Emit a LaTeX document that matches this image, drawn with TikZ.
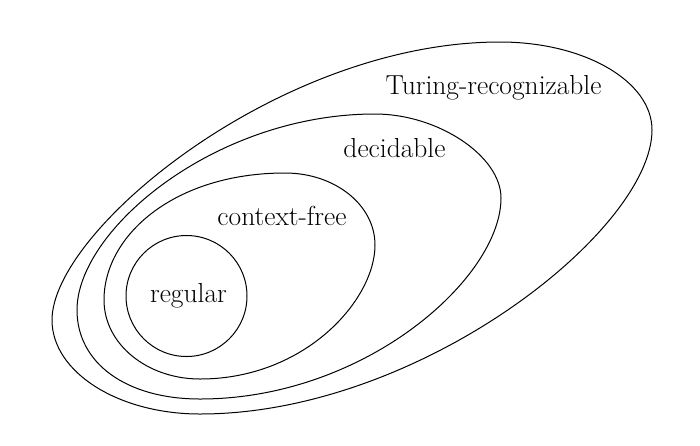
\documentclass[tikz,border=0pt]{standalone}
\begin{document}
\begin{tikzpicture}[x=1pt,y=-1pt,
  setline/.style={draw=black,line width=1pt},
  setlabel/.style={anchor=base,inner sep=0pt,font=\fontsize{27.5}{32}\selectfont}]
\useasboundingbox (0,0) rectangle (700,445);
% Turing-recognizable
\draw[setline] (500,42) .. controls (584,42) and (652,81) .. (652,130)
  .. controls (652,230) and (420,414) .. (200,414)
  .. controls (118,414) and (52,372) .. (52,320)
  .. controls (52,230) and (280,42) .. cycle;
% decidable
\draw[setline] (375,114) .. controls (438,114) and (501,156) .. (501,198)
  .. controls (501,278) and (365,399) .. (200,399)
  .. controls (126,399) and (77,363) .. (77,310)
  .. controls (77,230) and (215,114) .. cycle;
% context-free
\draw[setline] (285,173) .. controls (335,173) and (375,205) .. (375,245)
  .. controls (375,300) and (305,379) .. (200,379)
  .. controls (147,379) and (104,344) .. (104,300)
  .. controls (104,235) and (175,173) .. cycle;
% regular
\draw[setline] (186.5,296) circle [radius=60.5];
\node[setlabel] (tr) at (493.5,94) {Turing-recognizable};
\node[setlabel] (dec) at (394.5,157) {decidable};
\node[setlabel] (cf) at (282,225) {context-free};
\node[setlabel] (reg) at (188.5,302) {regular};
\end{tikzpicture}
\end{document}
